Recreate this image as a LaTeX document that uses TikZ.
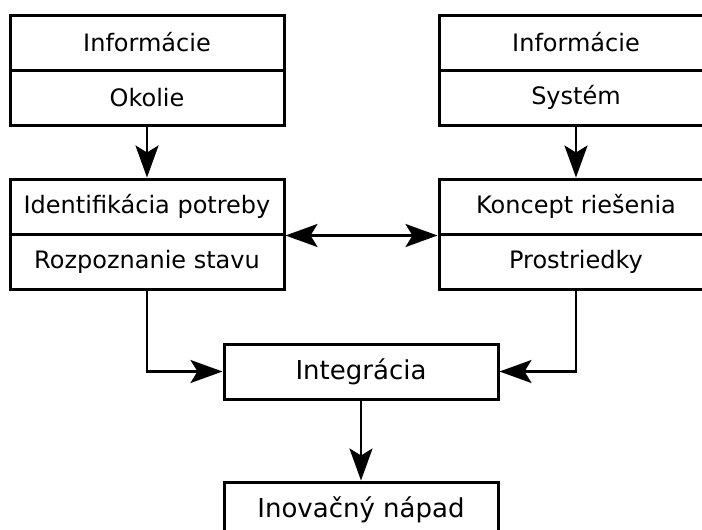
\documentclass[tikz,border=0pt]{standalone}
\usepackage{fontspec}
\setmainfont{DejaVu Sans}
\usetikzlibrary{arrows.meta}
\begin{document}
\begin{tikzpicture}[x=1pt,y=-1pt,
  cell/.style={draw, line width=3pt, minimum width=274pt, minimum height=55pt,
    inner sep=0pt, font=\fontsize{24}{28}\selectfont},
  bigcell/.style={cell, font=\fontsize{26}{30}\selectfont},
  tip/.tip={Stealth[length=32pt,width=23pt,inset=7pt]},
  link/.style={line width=2.8pt, -tip},
  twoway/.style={line width=2.8pt, tip-tip}]
  % page frame
  \useasboundingbox (0,0) rectangle (702,530);
  \fill[white] (0,0) rectangle (702,530);
  \clip (0,0) rectangle (702,530);

  % information sources
  \node[cell] (tl1) at (147,42.5) {Informácie};
  \node[cell] (tl2) at (147,97.5) {Okolie};
  \node[cell] (tr1) at (576,42.5) {Informácie};
  \node[cell] (tr2) at (576,97.5) {Systém};

  % need and concept
  \node[cell] (ml1) at (147,206.5) {Identifikácia potreby};
  \node[cell] (ml2) at (147,261.5) {Rozpoznanie stavu};
  \node[cell] (mr1) at (576,206.5) {Koncept riešenia};
  \node[cell] (mr2) at (576,261.5) {Prostriedky};

  % integration and result
  \node[bigcell] (integ) at (361,371.5) {Integrácia};
  \node[bigcell] (inov) at (361,509.5) {Inovačný nápad};

  % connectors
  \draw[link] (tl2.south) -- (ml1.north);
  \draw[link] (tr2.south) -- (mr1.north);
  \draw[twoway] (ml1.south east) -- (mr1.south west);
  \draw[link] (ml2.south) |- (integ.west);
  \draw[link] (mr2.south) |- (integ.east);
  \draw[link] (integ.south) -- (inov.north);
\end{tikzpicture}
\end{document}
